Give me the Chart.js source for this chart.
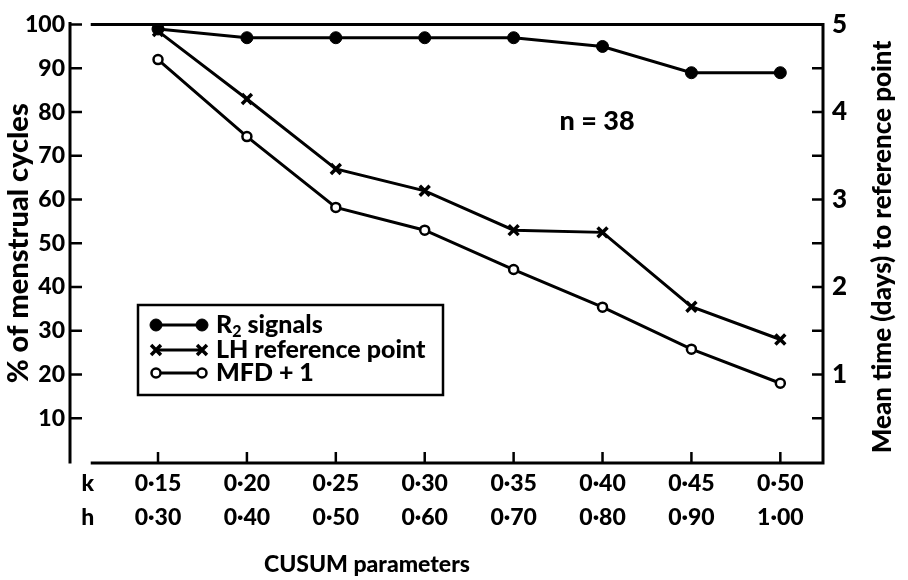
<!DOCTYPE html>
<html>
<head>
<meta charset="utf-8">
<script src="https://cdn.jsdelivr.net/npm/chart.js@4.4.1/dist/chart.umd.min.js"></script>
<style>
  html, body { margin: 0; padding: 0; background: #fff; }
  #wrap { width: 908px; height: 580px; }
</style>
</head>
<body>
<div id="wrap"><canvas id="cusumChart"></canvas></div>
<script>
// CUSUM parameter pairs along the x axis
const kValues = ['0·15', '0·20', '0·25', '0·30', '0·35', '0·40', '0·45', '0·50'];
const hValues = ['0·30', '0·40', '0·50', '0·60', '0·70', '0·80', '0·90', '1·00'];

// % of menstrual cycles (left axis)
const r2Signals = [99, 97, 97, 97, 97, 95, 89, 89];
const lhReference = [98.5, 83, 67, 62, 53, 52.5, 35.5, 28];
// mean time in days to reference point (right axis)
const mfdPlusOne = [4.6, 3.72, 2.91, 2.65, 2.2, 1.77, 1.29, 0.9];

const leftTicks = [10, 20, 30, 40, 50, 60, 70, 80, 90, 100];
const rightTicks = [0.5, 1, 1.5, 2, 2.5, 3, 3.5, 4, 4.5, 5];

const FONT = 'Lato';
const W = '900';
Chart.defaults.font.family = FONT;
Chart.defaults.color = '#000';

const toPoints = arr => arr.map((v, i) => ({ x: i, y: v }));

// frame, inward tick marks, legend box and free text
const paperPlugin = {
    id: 'paper',
    afterDraw(chart) {
        const { ctx, chartArea: a, scales } = chart;
        const xs = scales.x, yl = scales.y, yr = scales.y2;
        const frameLeft = xs.getPixelForValue(-0.74);
        ctx.save();
        ctx.strokeStyle = '#000';
        ctx.lineCap = 'square';

        // axes / frame
        ctx.lineWidth = 3;
        ctx.beginPath();
        ctx.moveTo(a.left, a.top - 1); ctx.lineTo(a.left, a.bottom);
        ctx.moveTo(frameLeft, a.top); ctx.lineTo(a.right, a.top);
        ctx.moveTo(a.right, a.top); ctx.lineTo(a.right, a.bottom + 1);
        ctx.moveTo(frameLeft, a.bottom + 1); ctx.lineTo(a.right, a.bottom + 1);
        ctx.stroke();

        // tick marks pointing into the plot
        ctx.lineWidth = 2.5;
        ctx.lineCap = 'butt';
        ctx.beginPath();
        leftTicks.forEach(v => {
            const y = yl.getPixelForValue(v);
            ctx.moveTo(a.left, y); ctx.lineTo(a.left + 12, y);
        });
        rightTicks.forEach(v => {
            const y = yr.getPixelForValue(v);
            ctx.moveTo(a.right, y); ctx.lineTo(a.right - 11, y);
        });
        kValues.forEach((k, i) => {
            const x = xs.getPixelForValue(i);
            ctx.moveTo(x, a.bottom + 1); ctx.lineTo(x, a.bottom - 10);
        });
        ctx.stroke();

        // legend box
        const bx = 138, by = 305, bw = 305, bh = 90;
        ctx.lineWidth = 2.5;
        ctx.strokeRect(bx, by, bw, bh);
        const rows = [325, 350, 373];
        chart.data.datasets.forEach((ds, i) => {
            const y = rows[i];
            ctx.lineWidth = 3;
            ctx.beginPath();
            ctx.moveTo(156, y); ctx.lineTo(202, y);
            ctx.stroke();
            const opts = { pointStyle: ds.pointStyle, radius: ds.pointRadius, borderWidth: ds.pointBorderWidth, rotation: 0 };
            ctx.fillStyle = ds.pointBackgroundColor;
            ctx.lineWidth = ds.pointBorderWidth;
            Chart.helpers.drawPoint(ctx, opts, 156, y);
            Chart.helpers.drawPoint(ctx, opts, 202, y);
        });
        ctx.fillStyle = '#000';
        ctx.textBaseline = 'middle';
        ctx.textAlign = 'left';
        ctx.font = `${W} 25px ${FONT}`;
        ctx.fillText('R', 216, rows[0]);
        const rw = ctx.measureText('R').width;
        ctx.font = `${W} 16px ${FONT}`;
        ctx.fillText('2', 216 + rw, rows[0] + 7);
        const sw = ctx.measureText('2').width;
        ctx.font = `${W} 25px ${FONT}`;
        ctx.fillText(' signals', 216 + rw + sw, rows[0]);
        ctx.fillText('LH reference point', 216, rows[1]);
        ctx.fillText('MFD + 1', 216, rows[2]);

        // annotation
        ctx.font = `${W} 27px ${FONT}`;
        ctx.textAlign = 'center';
        ctx.fillText('n = 38', 597, 121);

        // x axis title
        ctx.font = `${W} 23px ${FONT}`;
        ctx.fillText('CUSUM parameters', 367, 565);

        // right axis title, reading upwards
        ctx.save();
        ctx.translate(883, 247);
        ctx.rotate(-Math.PI / 2);
        ctx.font = `${W} 26px ${FONT}`;
        ctx.fillText('Mean time (days) to reference point', 0, 0);
        ctx.restore();

        ctx.restore();
    }
};

const config = {
    type: 'line',
    data: {
        datasets: [{
            label: 'R2 signals',
            data: toPoints(r2Signals),
            yAxisID: 'y',
            borderColor: '#000',
            borderWidth: 3,
            pointStyle: 'circle',
            pointRadius: 6,
            pointBorderWidth: 1,
            pointBackgroundColor: '#000',
            pointBorderColor: '#000'
        }, {
            label: 'LH reference point',
            data: toPoints(lhReference),
            yAxisID: 'y',
            borderColor: '#000',
            borderWidth: 3,
            pointStyle: 'crossRot',
            pointRadius: 7,
            pointBorderWidth: 3.5,
            pointBackgroundColor: '#000',
            pointBorderColor: '#000'
        }, {
            label: 'MFD + 1',
            data: toPoints(mfdPlusOne),
            yAxisID: 'y2',
            borderColor: '#000',
            borderWidth: 3,
            pointStyle: 'circle',
            pointRadius: 4.5,
            pointBorderWidth: 2.5,
            pointBackgroundColor: '#fff',
            pointBorderColor: '#000'
        }]
    },
    options: {
        responsive: true,
        maintainAspectRatio: false,
        animation: false,
        layout: { padding: { top: 15, left: 0, right: 0, bottom: 0 } },
        plugins: {
            legend: { display: false },
            tooltip: { enabled: false }
        },
        scales: {
            x: {
                type: 'linear',
                min: -0.99,
                max: 7.48,
                grid: { display: false, drawTicks: false },
                border: { display: false },
                afterBuildTicks: scale => {
                    scale.ticks = [{ value: -0.79 }].concat(kValues.map((k, i) => ({ value: i })));
                },
                afterFit: scale => { scale.height = 118; },
                ticks: {
                    autoSkip: false,
                    maxRotation: 0,
                    padding: 5,
                    font: { size: 23, weight: W, lineHeight: 34 / 23 },
                    callback: (value, index) => index === 0 ? ['k', 'h'] : [kValues[index - 1], hValues[index - 1]]
                }
            },
            y: {
                position: 'left',
                min: 0,
                max: 100,
                grid: { display: false, drawTicks: false },
                border: { display: false },
                afterFit: scale => { scale.width = 70; },
                ticks: {
                    stepSize: 10,
                    padding: 5,
                    font: { size: 23, weight: W },
                    callback: v => v === 0 ? '' : v
                },
                title: {
                    display: true,
                    text: '% of menstrual cycles',
                    font: { size: 29, weight: W },
                    padding: { top: 1, bottom: 0 }
                }
            },
            y2: {
                position: 'right',
                min: 0,
                max: 5,
                grid: { display: false, drawTicks: false },
                border: { display: false },
                afterFit: scale => { scale.width = 85; },
                ticks: {
                    stepSize: 1,
                    padding: 9,
                    font: { size: 26, weight: W },
                    callback: v => v === 0 ? '' : v
                }
            }
        }
    },
    plugins: [paperPlugin]
};

window.onload = () => {
    const ctx = document.getElementById('cusumChart').getContext('2d');
    new Chart(ctx, config);
};
</script>
</body>
</html>
